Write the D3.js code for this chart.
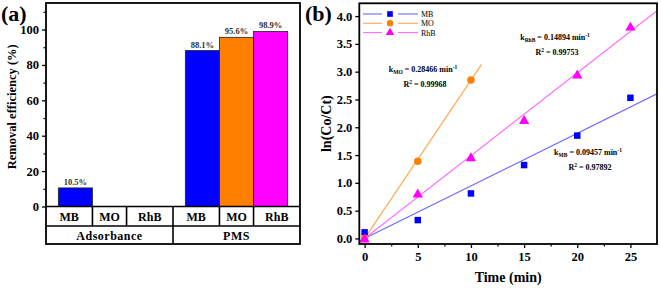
<!DOCTYPE html>
<html>
<head>
<meta charset="utf-8">
<script src="https://cdn.jsdelivr.net/npm/d3@7"></script>
<style>
  body { margin: 0; background: #fff; }
  text { font-family: "Liberation Serif", "Times New Roman", serif; font-weight: bold; }
</style>
</head>
<body>
<script>
// panel (a) data
const groups = ["Adsorbance", "PMS"];
const dyes = ["MB", "MO", "RhB"];
const adsorbanceValues = [10.5, 0, 0];
const pmsValues = [88.1, 95.6, 98.9];
const removalTicks = [0, 20, 40, 60, 80, 100];

// panel (b) data
const times = [0, 5, 10, 15, 20, 25];
const mbValues = [0.11, 0.33, 0.81, 1.32, 1.85, 2.53];
const moTimes = [0, 5, 10];
const moValues = [0.0, 1.39, 2.85];
const rhbValues = [0.0, 0.81, 1.46, 2.13, 2.95, 3.81];
const rateK = [0.09457, 0.28466, 0.14894];
const rSquared = ["0.97892", "0.99968", "0.99753"];
const timeTicks = [0, 5, 10, 15, 20, 25];
const lnTicks = [0, 0.5, 1, 1.5, 2, 2.5, 3, 3.5, 4];

const barColors = ["#0000ff", "#ff8000", "#ff00ff"];
const lineColors = ["#6a6aff", "#ffa850", "#ff6cff"];

const width = 661, height = 288;
const svg = d3.select("body").append("svg")
    .attr("width", width)
    .attr("height", height);

// ---------- panel (a) ----------
const ax = { left: 46, right: 300, top: 3, bottom: 206.5, row1: 226, row2: 244 };

const xGroup = d3.scaleBand().domain(groups).range([ax.left, ax.right]).padding(0);
const xDye = d3.scaleBand().domain(dyes).range([0, xGroup.bandwidth()])
    .paddingInner(0).paddingOuter(0.362);
const yA = d3.scaleLinear().domain([0, 115]).range([ax.bottom, ax.top]);

const barData = [];
groups.forEach((g, gi) => {
    const vals = gi === 0 ? adsorbanceValues : pmsValues;
    dyes.forEach((d, di) => barData.push({ group: g, dye: d, value: vals[di], ci: di }));
});

const a = svg.append("g");

a.selectAll("rect.bar")
    .data(barData.filter(d => d.value > 0))
    .enter()
    .append("rect")
    .attr("class", "bar")
    .attr("x", d => xGroup(d.group) + xDye(d.dye))
    .attr("y", d => yA(d.value))
    .attr("width", xDye.bandwidth())
    .attr("height", d => yA(0) - yA(d.value))
    .style("fill", d => barColors[d.ci])
    .style("stroke", "#222")
    .style("stroke-width", 0.8);

a.selectAll("text.val")
    .data(barData.filter(d => d.value > 0))
    .enter()
    .append("text")
    .attr("x", d => xGroup(d.group) + xDye(d.dye) + xDye.bandwidth() / 2)
    .attr("y", d => yA(d.value) - 3)
    .attr("text-anchor", "middle")
    .style("font-size", "8.5px")
    .style("fill", "#333")
    .text(d => d.value.toFixed(1) + "%");

// y axis with minor ticks
const yAxisA = d3.axisLeft(yA).tickValues(removalTicks).tickSize(4).tickPadding(3);
a.append("g")
    .attr("transform", `translate(${ax.left},0)`)
    .call(yAxisA)
    .call(g => g.select(".domain").remove())
    .call(g => g.selectAll("line").attr("stroke", "#000").attr("stroke-width", 1.3))
    .call(g => g.selectAll("text").style("font-size", "12.5px").style("font-weight", "bold"));
a.append("g")
    .attr("transform", `translate(${ax.left},0)`)
    .call(d3.axisLeft(yA).tickValues(d3.range(10, 115, 20)).tickSize(2.5).tickFormat(""))
    .call(g => g.select(".domain").remove())
    .call(g => g.selectAll("line").attr("stroke", "#000").attr("stroke-width", 1.2));

// frame and table
a.append("rect")
    .attr("x", ax.left).attr("y", ax.top)
    .attr("width", ax.right - ax.left).attr("height", ax.row2 - ax.top)
    .style("fill", "none").style("stroke", "#000").style("stroke-width", 1.8);
[ax.bottom, ax.row1].forEach(y => a.append("line")
    .attr("x1", ax.left).attr("x2", ax.right).attr("y1", y).attr("y2", y)
    .style("stroke", "#000").style("stroke-width", 1.6));

const cellEdges = [];
groups.forEach(g => {
    cellEdges.push({ x: xGroup(g), full: true });
    dyes.slice(0, 2).forEach(d => cellEdges.push({ x: xGroup(g) + xDye(d) + xDye.bandwidth(), full: false }));
});
a.selectAll("line.cell")
    .data(cellEdges.filter(d => d.x > ax.left + 1))
    .enter()
    .append("line")
    .attr("x1", d => d.x).attr("x2", d => d.x)
    .attr("y1", ax.bottom)
    .attr("y2", d => d.full ? ax.row2 : ax.row1)
    .style("stroke", "#000").style("stroke-width", 1.6);

// dye labels (cell centers)
const cellLabels = [];
groups.forEach(g => {
    const edges = [xGroup(g), xGroup(g) + xDye("MB") + xDye.bandwidth(),
        xGroup(g) + xDye("MO") + xDye.bandwidth(), xGroup(g) + xGroup.bandwidth()];
    dyes.forEach((d, i) => cellLabels.push({ text: d, x: (edges[i] + edges[i + 1]) / 2 }));
});
a.selectAll("text.cell")
    .data(cellLabels)
    .enter()
    .append("text")
    .attr("x", d => d.x)
    .attr("y", (ax.bottom + ax.row1) / 2 + 4.5)
    .attr("text-anchor", "middle")
    .style("font-size", "12px")
    .text(d => d.text);

a.selectAll("text.group")
    .data(groups)
    .enter()
    .append("text")
    .attr("x", d => xGroup(d) + xGroup.bandwidth() / 2)
    .attr("y", (ax.row1 + ax.row2) / 2 + 4.5)
    .attr("text-anchor", "middle")
    .style("font-size", "12px")
    .style("letter-spacing", "0.5px")
    .text(d => d);

a.append("text")
    .attr("transform", `translate(16,${(ax.top + ax.bottom) / 2 + 2}) rotate(-90)`)
    .attr("text-anchor", "middle")
    .style("font-size", "12.5px")
    .text("Removal efficiency (%)");

a.append("text")
    .attr("x", 1).attr("y", 21)
    .style("font-size", "22px")
    .text("(a)");

// ---------- panel (b) ----------
const bx = { left: 359.3, right: 657, top: 3.3, bottom: 244 };
const xB = d3.scaleLinear().domain([-0.5, 27.5]).range([bx.left, bx.right]);
const yB = d3.scaleLinear().domain([-0.1, 4.23]).range([bx.bottom, bx.top]);

const b = svg.append("g");
b.append("clipPath").attr("id", "clipB")
    .append("rect")
    .attr("x", bx.left).attr("y", bx.top)
    .attr("width", bx.right - bx.left).attr("height", bx.bottom - bx.top);

const fitEnds = [[-0.5, 27.5], [-0.5, 11], [-0.5, 27.5]];
const lines = b.append("g").attr("clip-path", "url(#clipB)");
rateK.forEach((k, i) => {
    lines.append("line")
        .attr("x1", xB(fitEnds[i][0])).attr("y1", yB(k * fitEnds[i][0]))
        .attr("x2", xB(fitEnds[i][1])).attr("y2", yB(k * fitEnds[i][1]))
        .style("stroke", lineColors[i]).style("stroke-width", 1.2);
});

const sq = d3.symbol().type(d3.symbolSquare).size(42);
const circ = d3.symbol().type(d3.symbolCircle).size(44);
const tri = d3.symbol().type(d3.symbolTriangle).size(46);

b.selectAll("path.mb")
    .data(times.map((t, i) => [t, mbValues[i]]))
    .enter().append("path")
    .attr("d", sq)
    .attr("transform", d => `translate(${xB(d[0])},${yB(d[1])})`)
    .style("fill", barColors[0]);
b.selectAll("path.mo")
    .data(moTimes.map((t, i) => [t, moValues[i]]))
    .enter().append("path")
    .attr("d", circ)
    .attr("transform", d => `translate(${xB(d[0])},${yB(d[1])})`)
    .style("fill", barColors[1]);
b.selectAll("path.rhb")
    .data(times.map((t, i) => [t, rhbValues[i]]))
    .enter().append("path")
    .attr("d", tri)
    .attr("transform", d => `translate(${xB(d[0])},${yB(d[1]) + 1})`)
    .style("fill", barColors[2]);

// axes
b.append("g")
    .attr("transform", `translate(${bx.left},0)`)
    .call(d3.axisLeft(yB).tickValues(lnTicks).tickSize(4).tickPadding(3).tickFormat(d3.format(".1f")))
    .call(g => g.select(".domain").remove())
    .call(g => g.selectAll("line").attr("stroke", "#000").attr("stroke-width", 1.3))
    .call(g => g.selectAll("text").style("font-size", "12.5px").style("font-weight", "bold"));
b.append("g")
    .attr("transform", `translate(0,${bx.bottom})`)
    .call(d3.axisBottom(xB).tickValues(timeTicks).tickSize(4).tickPadding(4))
    .call(g => g.select(".domain").remove())
    .call(g => g.selectAll("line").attr("stroke", "#000").attr("stroke-width", 1.3))
    .call(g => g.selectAll("text").style("font-size", "12.5px").style("font-weight", "bold"));
b.append("g")
    .attr("transform", `translate(0,${bx.bottom})`)
    .call(d3.axisBottom(xB).tickValues(d3.range(2.5, 27.5, 5)).tickSize(2.5).tickFormat(""))
    .call(g => g.select(".domain").remove())
    .call(g => g.selectAll("line").attr("stroke", "#000").attr("stroke-width", 1.2));

b.append("rect")
    .attr("x", bx.left).attr("y", bx.top)
    .attr("width", bx.right - bx.left).attr("height", bx.bottom - bx.top)
    .style("fill", "none").style("stroke", "#000").style("stroke-width", 1.8);

b.append("text")
    .attr("x", (bx.left + bx.right) / 2).attr("y", 282)
    .attr("text-anchor", "middle")
    .style("font-size", "14px")
    .text("Time (min)");
b.append("text")
    .attr("transform", `translate(331,${(bx.top + bx.bottom) / 2}) rotate(-90)`)
    .attr("text-anchor", "middle")
    .style("font-size", "14px")
    .text("ln(Co/Ct)");
b.append("text")
    .attr("x", 305).attr("y", 21)
    .style("font-size", "22px")
    .text("(b)");

// legend
const legendNames = ["MB", "MO", "RhB"];
const legendSymbols = [sq, circ, tri];
const leg = b.selectAll("g.leg")
    .data(legendNames)
    .enter().append("g")
    .attr("transform", (d, i) => `translate(0,${14 + i * 9.3})`);
leg.append("line").attr("x1", 363).attr("x2", 382).attr("y1", 0).attr("y2", 0)
    .style("stroke", (d, i) => lineColors[i]).style("stroke-width", 1.1);
leg.append("line").attr("x1", 398).attr("x2", 418).attr("y1", 0).attr("y2", 0)
    .style("stroke", (d, i) => lineColors[i]).style("stroke-width", 1.1);
leg.append("path")
    .attr("d", (d, i) => legendSymbols[i].size(32)())
    .attr("transform", "translate(390,0)")
    .style("fill", (d, i) => barColors[i]);
leg.append("text")
    .attr("x", 421).attr("y", 3)
    .style("font-size", "8px")
    .style("font-weight", "normal")
    .text(d => d);

// fit annotations
const notePos = [[588, 155], [423, 72], [555, 40]];
const subs = ["MB", "MO", "RhB"];
notePos.forEach((p, i) => {
    const t = b.append("text")
        .attr("x", p[0]).attr("y", p[1])
        .attr("text-anchor", "middle")
        .style("font-size", "8px");
    t.append("tspan").text("k");
    t.append("tspan").attr("dy", 2).style("font-size", "5.5px").text(subs[i]);
    t.append("tspan").attr("dy", -2).text(" = " + rateK[i] + " min");
    t.append("tspan").attr("dy", -3).style("font-size", "5.5px").text("-1");
    const r = b.append("text")
        .attr("x", p[0] + 2).attr("y", p[1] + 15)
        .attr("text-anchor", "middle")
        .style("font-size", "8px");
    r.append("tspan").text("R");
    r.append("tspan").attr("dy", -3).style("font-size", "5.5px").text("2");
    r.append("tspan").attr("dy", 3).text(" = " + rSquared[i]);
});
</script>
</body>
</html>
